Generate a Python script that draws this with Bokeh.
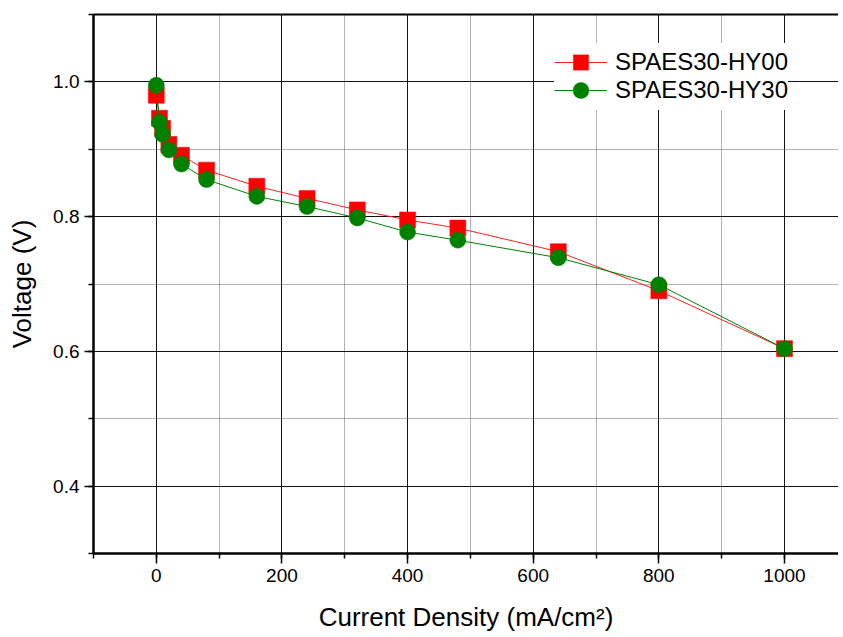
from bokeh.plotting import figure
from bokeh.models import (Range1d, SingleIntervalTicker, FixedTicker, LinearAxis, Legend,
                          LegendItem, PrintfTickFormatter, Grid)
from bokeh.embed import file_html
from bokeh.resources import INLINE

# ---- data ----
current = [0, 5, 10, 20, 40, 80, 160, 240, 320, 400, 480, 640, 800, 1000]
volt_hy00 = [0.980, 0.946, 0.931, 0.907, 0.891, 0.869, 0.845, 0.827, 0.810,
             0.795, 0.783, 0.748, 0.690, 0.604]
volt_hy30 = [0.995, 0.940, 0.922, 0.899, 0.878, 0.855, 0.830, 0.815, 0.798,
             0.777, 0.765, 0.739, 0.699, 0.604]
series_names = ["SPAES30-HY00", "SPAES30-HY30"]
x_title = "Current Density (mA/cm\u00b2)"
y_title = "Voltage (V)"
x_start, x_end = -100, 1086
y_start, y_end = 0.3, 1.1

FONT = "Liberation Sans"

p = figure(width=838, height=634, output_backend="svg", toolbar_location=None,
           x_range=Range1d(x_start, x_end), y_range=Range1d(y_start, y_end),
           min_border_left=93, min_border_right=0, min_border_top=14,
           min_border_bottom=80, x_axis_location=None, y_axis_location=None)

p.background_fill_color = "white"
p.border_fill_color = "white"
p.outline_line_color = None

xticker = SingleIntervalTicker(interval=200, num_minor_ticks=2)
yticker = SingleIntervalTicker(interval=0.2, num_minor_ticks=2)

xaxis = LinearAxis(ticker=xticker, axis_label=x_title)
yaxis = LinearAxis(ticker=yticker, axis_label=y_title,
                   formatter=PrintfTickFormatter(format="%.1f"))
p.add_layout(xaxis, "below")
p.add_layout(yaxis, "left")

for ax in (xaxis, yaxis):
    ax.axis_line_width = 2.5
    ax.axis_line_color = "black"
    ax.major_tick_line_color = "black"
    ax.minor_tick_line_color = "black"
    ax.major_tick_line_width = 1.5
    ax.minor_tick_line_width = 1.5
    ax.major_tick_in = 0
    ax.minor_tick_in = 0
    ax.major_label_text_font = FONT
    ax.major_label_text_font_size = "19px"
    ax.major_label_text_color = "black"
    ax.axis_label_text_font = FONT
    ax.axis_label_text_font_size = "26px"
    ax.axis_label_text_font_style = "normal"
    ax.axis_label_text_color = "black"

xaxis.major_tick_out = 10
xaxis.minor_tick_out = 5
xaxis.major_label_standoff = 5
xaxis.axis_label_standoff = 17
yaxis.major_tick_out = 9
yaxis.minor_tick_out = 5
yaxis.major_label_standoff = 5
yaxis.axis_label_standoff = 13

# top frame line (axis without ticks or labels)
top = LinearAxis(ticker=FixedTicker(ticks=[]), axis_line_width=2,
                 axis_line_color="black", major_tick_line_color=None,
                 minor_tick_line_color=None)
p.add_layout(top, "above")

# grids
p.xgrid.visible = False
p.ygrid.visible = False
xgrid = Grid(dimension=0, ticker=xticker, grid_line_color="#111111", grid_line_width=1,
             minor_grid_line_color="#666666", minor_grid_line_dash="1 1",
             minor_grid_line_width=1)
ygrid = Grid(dimension=1, ticker=yticker, grid_line_color="#111111", grid_line_width=1,
             minor_grid_line_color="#666666", minor_grid_line_dash="1 1",
             minor_grid_line_width=1)
p.add_layout(xgrid)
p.add_layout(ygrid)

# series
l0 = p.line(current, volt_hy00, line_color="#ff2020", line_width=1)
m0 = p.scatter(current, volt_hy00, marker="square", size=16,
               fill_color="#ff0000", line_color="#ff0000", line_width=0.5)
l1 = p.line(current, volt_hy30, line_color="#008000", line_width=1)
m1 = p.scatter(current, volt_hy30, marker="circle", size=16,
               fill_color="#008000", line_color="#008000", line_width=0.5)


def make_legend(item, loc, gh):
    lg = Legend(items=[item], location=loc, orientation="vertical")
    lg.background_fill_color = "white"
    lg.background_fill_alpha = 1.0
    lg.border_line_color = None
    lg.padding = 0
    lg.margin = 0
    lg.spacing = 0
    lg.glyph_width = 53
    lg.glyph_height = gh
    lg.label_height = 20
    lg.label_standoff = 8
    lg.label_text_font = FONT
    lg.label_text_font_size = "24px"
    lg.label_text_color = "black"
    lg.label_text_baseline = "middle"
    return lg


# second row first, so that the first row's box is drawn on top of it
p.add_layout(make_legend(LegendItem(label=series_names[1], renderers=[l1, m1]), (461, 443), 40),
             "center")
p.add_layout(make_legend(LegendItem(label=series_names[0], renderers=[l0, m0]), (461, 472), 38),
             "center")

open("out.html", "w").write(file_html(p, INLINE))
